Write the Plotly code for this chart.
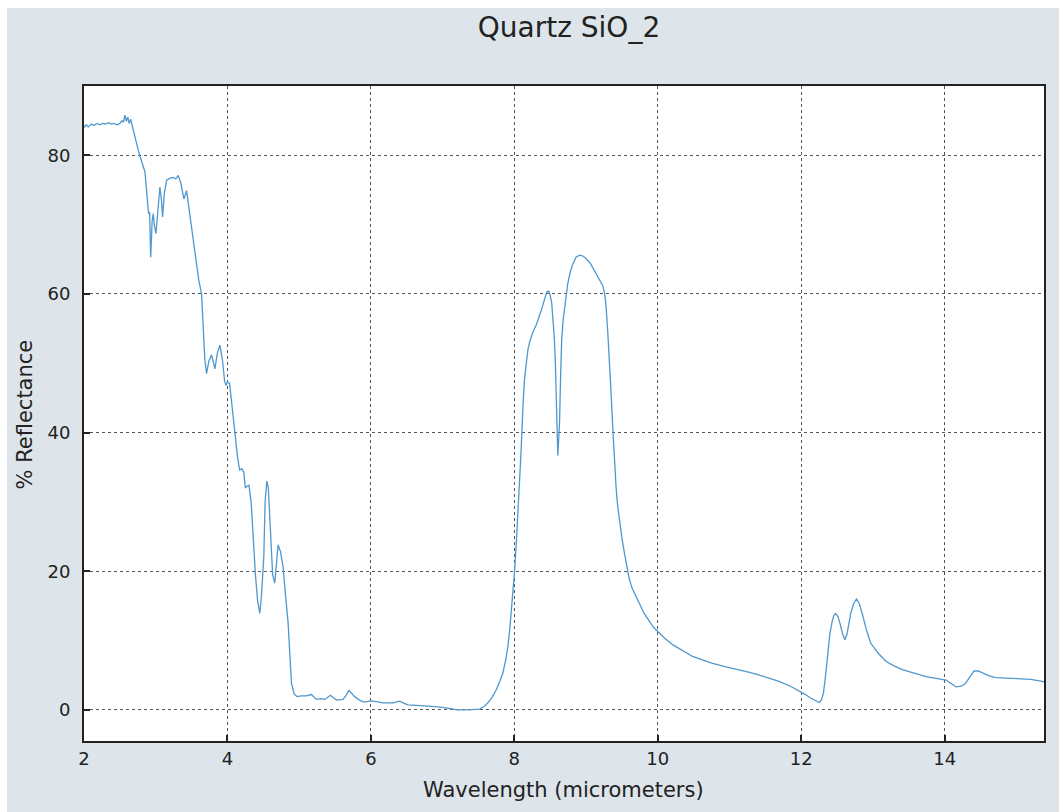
import plotly.graph_objects as go

wavelength = [
    2.00, 2.03, 2.06, 2.10, 2.14, 2.18, 2.22, 2.26, 2.30, 2.34, 2.38, 2.42, 2.46, 2.50,
    2.53, 2.55, 2.57, 2.59, 2.61, 2.63, 2.65, 2.67, 2.70, 2.73, 2.76, 2.78, 2.82, 2.85,
    2.88, 2.90, 2.915, 2.93, 2.95, 2.966, 2.98, 3.003, 3.03, 3.058, 3.08, 3.096, 3.12,
    3.152, 3.20, 3.244, 3.28, 3.314, 3.35, 3.393, 3.43, 3.46, 3.50, 3.54, 3.57, 3.60,
    3.639, 3.66, 3.685, 3.709, 3.74, 3.778, 3.80, 3.825, 3.86, 3.894, 3.93, 3.96, 3.978,
    4.00, 4.03, 4.06, 4.10, 4.14, 4.17, 4.20, 4.228, 4.25, 4.266, 4.30, 4.33, 4.358,
    4.39, 4.42, 4.451, 4.475, 4.507, 4.525, 4.549, 4.57, 4.60, 4.63, 4.66, 4.68, 4.706,
    4.74, 4.776, 4.81, 4.846, 4.87, 4.893, 4.93, 4.971, 5.03, 5.10, 5.17, 5.24, 5.30,
    5.357, 5.436, 5.52, 5.61, 5.65, 5.695, 5.774, 5.84, 5.90, 6.007, 6.08, 6.17, 6.31,
    6.40, 6.45, 6.517, 6.64, 6.77, 6.90, 7.00, 7.10, 7.21, 7.35, 7.45, 7.515, 7.58, 7.63,
    7.69, 7.748, 7.80, 7.84, 7.88, 7.91, 7.935, 7.957, 7.98, 8.003, 8.03, 8.05, 8.072,
    8.095, 8.12, 8.14, 8.166, 8.19, 8.22, 8.26, 8.305, 8.34, 8.375, 8.415, 8.453, 8.48,
    8.50, 8.52, 8.536, 8.555, 8.57, 8.582, 8.592, 8.606, 8.618, 8.63, 8.645, 8.66, 8.68,
    8.70, 8.745, 8.78, 8.815, 8.86, 8.908, 8.95, 9.00, 9.06, 9.117, 9.18, 9.233, 9.26,
    9.28, 9.30, 9.326, 9.35, 9.372, 9.395, 9.419, 9.44, 9.465, 9.50, 9.535, 9.57, 9.60,
    9.64, 9.69, 9.74, 9.81, 9.883, 9.94, 10.0, 10.1, 10.207, 10.35, 10.486, 10.62,
    10.765, 10.95, 11.14, 11.28, 11.42, 11.55, 11.69, 11.85, 11.995, 12.06, 12.13, 12.19,
    12.25, 12.28, 12.31, 12.34, 12.37, 12.40, 12.43, 12.455, 12.48, 12.51, 12.54, 12.575,
    12.61, 12.64, 12.69, 12.73, 12.77, 12.81, 12.85, 12.91, 12.97, 13.07, 13.18, 13.30,
    13.41, 13.57, 13.74, 13.88, 14.02, 14.09, 14.16, 14.23, 14.29, 14.35, 14.41, 14.47,
    14.53, 14.62, 14.71, 14.85, 15.04, 15.20, 15.36, 15.385,
]
reflectance = [
    84.0, 84.4, 84.1, 84.5, 84.3, 84.6, 84.4, 84.6, 84.5, 84.7, 84.5, 84.6, 84.4, 84.6,
    85.0, 84.8, 85.8, 84.9, 85.5, 84.6, 85.2, 84.3, 83.0, 81.8, 80.6, 79.9, 78.6, 77.6,
    74.0, 71.6, 71.8, 65.3, 70.5, 71.6, 70.0, 68.7, 72.0, 75.4, 73.5, 71.1, 74.5,
    76.4, 76.7, 76.8, 76.6, 77.1, 76.0, 73.7, 74.9, 72.5, 70.1, 66.5, 63.9, 62.0,
    60.0, 54.8, 50.5, 48.5, 50.3, 51.2, 50.0, 49.2, 51.5, 52.6, 50.5, 47.5, 46.8,
    47.3, 47.1, 44.0, 39.9, 36.5, 34.6, 34.8, 34.3, 32.0, 32.2, 32.4, 30.0, 24.5,
    19.5, 15.8, 13.9, 16.5, 22.1, 30.0, 33.0, 32.0, 26.0, 19.5, 18.3, 21.0, 23.8,
    22.8, 20.6, 16.5, 12.5, 8.0, 3.8, 2.3, 1.9, 2.0, 2.0, 2.2, 1.5, 1.6,
    1.5, 2.1, 1.4, 1.5, 2.0, 2.8, 1.9, 1.4, 1.1, 1.3, 1.2, 1.0, 1.0,
    1.25, 1.0, 0.7, 0.65, 0.58, 0.45, 0.34, 0.2, 0.0, 0.0, 0.05, 0.1, 0.5, 1.0,
    1.8, 2.9, 4.2, 5.3, 7.2, 9.1, 11.5, 13.9, 16.8, 19.9, 24.5, 28.3, 31.7,
    37.5, 43.7, 47.5, 49.9, 52.0, 53.3, 54.5, 55.5, 56.5, 57.6, 59.0, 60.3, 60.4,
    59.8, 58.8, 57.1, 54.0, 50.9, 46.0, 41.3, 36.7, 39.0, 41.3, 48.0, 53.3, 56.2,
    58.1, 61.5, 63.2, 64.3, 65.3, 65.6, 65.5, 65.1, 64.4, 63.4, 62.3, 61.2, 60.0,
    58.1, 55.0, 50.9, 45.5, 40.8, 36.0, 32.0, 29.5, 27.4, 24.8, 22.6, 20.5, 19.0,
    17.6, 16.4, 15.4, 13.9, 12.7, 11.9, 11.3, 10.3, 9.4, 8.5, 7.7, 7.2,
    6.7, 6.2, 5.8, 5.4, 5.0, 4.6, 4.1, 3.4, 2.6, 2.2, 1.7, 1.4,
    1.05, 1.4, 2.4, 5.0, 8.6, 11.0, 12.7, 13.6, 13.9, 13.5, 12.5, 11.0,
    10.1, 11.0, 13.9, 15.3, 16.0, 15.3, 13.9, 11.5, 9.6, 8.2, 7.0, 6.3,
    5.8, 5.3, 4.8, 4.55, 4.3, 3.8, 3.3, 3.4, 3.8, 4.7, 5.6, 5.6,
    5.3, 4.9, 4.65, 4.6, 4.55, 4.4, 4.1, 4.05,
]

x_ticks = [2, 4, 6, 8, 10, 12, 14]
y_ticks = [0, 20, 40, 60, 80]

W, H = 1059, 812
L, R, T, B = 84, 1044, 86, 741
pw, ph = R - L, B - T


def px(xp):
    return (xp - L) / pw


def py(yp):
    return (B - yp) / ph


fig = go.Figure()
fig.add_trace(go.Scatter(
    x=wavelength, y=reflectance, mode="lines",
    line=dict(color="#4f98cf", width=1.3),
    showlegend=False,
))

font = "DejaVu Sans"
txt = "#222222"
fig.update_layout(
    width=W, height=H,
    margin=dict(l=L, r=W - R, t=T, b=H - B, pad=0),
    paper_bgcolor="#dde5eb",
    plot_bgcolor="white",
    font=dict(family=font, color=txt),
    title=dict(text="Quartz SiO_2", x=px(569), xref="paper", xanchor="center",
               y=1 - 27 / H, yanchor="middle", yref="container",
               font=dict(family=font, size=28, color=txt)),
    shapes=[
        dict(type="rect", xref="paper", yref="paper", x0=px(0), x1=px(7),
             y0=py(H), y1=py(0), fillcolor="white", line_width=0, layer="below"),
        dict(type="rect", xref="paper", yref="paper", x0=px(0), x1=px(W),
             y0=py(8), y1=py(0), fillcolor="white", line_width=0, layer="below"),
    ],
    annotations=[
        dict(text="Wavelength (micrometers)", xref="paper", yref="paper",
             x=px(563), y=py(790), xanchor="center", yanchor="middle",
             showarrow=False, font=dict(family=font, size=21, color=txt)),
        dict(text="% Reflectance", xref="paper", yref="paper",
             x=px(24.5), y=py(415), xanchor="center", yanchor="middle",
             textangle=-90, showarrow=False,
             font=dict(family=font, size=21, color=txt)),
    ],
)
fig.update_xaxes(
    range=[2, 15.385], tickvals=x_ticks, ticktext=[str(v) for v in x_ticks],
    ticks="inside", ticklen=6, tickwidth=1.5, tickcolor=txt,
    showline=True, mirror=True, linecolor=txt, linewidth=2,
    showgrid=True, gridcolor="#555555", gridwidth=1, griddash="dot",
    zeroline=False, tickfont=dict(size=18, family=font, color=txt),
    ticklabelstandoff=0,
)
fig.update_yaxes(
    range=[-4.5, 90], tickvals=y_ticks, ticktext=[str(v) for v in y_ticks],
    ticks="inside", ticklen=6, tickwidth=1.5, tickcolor=txt,
    showline=True, mirror=True, linecolor=txt, linewidth=2,
    showgrid=True, gridcolor="#555555", gridwidth=1, griddash="dot",
    zeroline=False, tickfont=dict(size=18, family=font, color=txt),
    ticklabelstandoff=8,
)

fig.write_html("out.html")
